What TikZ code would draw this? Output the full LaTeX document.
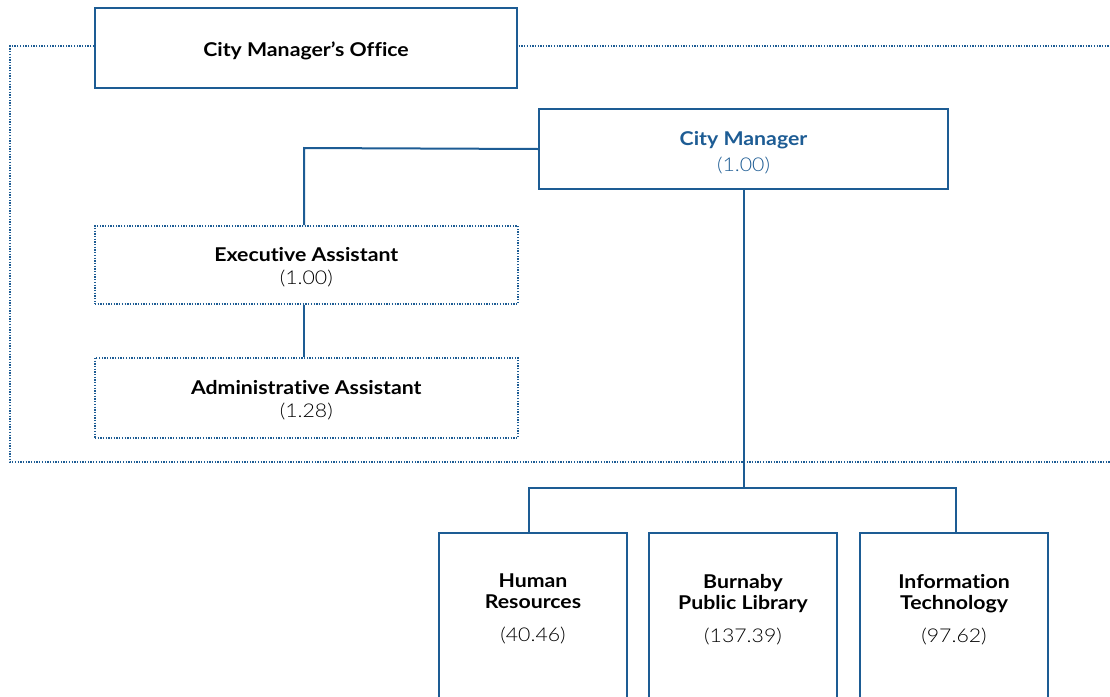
\documentclass[tikz,border=0pt]{standalone}
\usepackage{fontspec}
\setmainfont{Lato}[Ligatures=NoCommon,FakeStretch=1.12]
\newfontfamily\lightfont{Lato Light}[Ligatures=NoCommon,FakeStretch=1.12]
\definecolor{orgblue}{HTML}{1D5C94}
\newcommand{\fte}[1]{{\lightfont #1}}
\begin{document}
\begin{tikzpicture}[x=1pt,y=-1pt,
  txt/.style={align=center,inner sep=0pt,font=\fontsize{19}{23}\selectfont},
  solidbox/.style={draw=orgblue,line width=2pt,fill=white,anchor=north west,inner sep=0pt},
  dotbox/.style={draw=orgblue,line width=1.6pt,dash pattern=on 1.3pt off 1.4pt,fill=white,anchor=north west,inner sep=0pt},
  frame/.style={draw=orgblue,line width=1.6pt,dash pattern=on 1.3pt off 1.4pt},
  link/.style={draw=orgblue,line width=2pt}]
\useasboundingbox (0,0) rectangle (1110,696);
\clip (0,0) rectangle (1110,696);

% dotted outline of the office group
\draw[frame] (94,46) -- (10,46) -- (10,462) -- (1115,462);
\draw[frame] (516,46) -- (1115,46);

% boxes
\node[solidbox,minimum width=422pt,minimum height=80pt] (office) at (94,7) {};
\node[solidbox,minimum width=409pt,minimum height=80pt] (cm) at (538,108) {};
\node[dotbox,minimum width=423pt,minimum height=78pt] (ea) at (94,225) {};
\node[dotbox,minimum width=423pt,minimum height=80pt] (aa) at (94,357) {};
\node[solidbox,minimum width=188pt,minimum height=180pt] (hr) at (438,532) {};
\node[solidbox,minimum width=188pt,minimum height=180pt] (bpl) at (648,532) {};
\node[solidbox,minimum width=188pt,minimum height=180pt] (it) at (859,532) {};

% box texts
\node[txt] (officet) at ([yshift=-3pt]office.center) {\textbf{City Manager’s Office}};
\node[txt,text=orgblue,font=\fontsize{19}{26}\selectfont] (cmt) at ([yshift=-4pt]cm.center) {\textbf{City Manager}\\\fte{(1.00)}};
\node[txt] (eat) at ([yshift=-2pt]ea.center) {\textbf{Executive Assistant}\\\fte{(1.00)}};
\node[txt] (aat) at ([yshift=-2pt]aa.center) {\textbf{Administrative Assistant}\\\fte{(1.28)}};
\tikzset{dept/.style={txt,font=\fontsize{19}{21}\selectfont,anchor=north}}
\node[dept] (hrt) at ([yshift=-42pt]hr.north) {\textbf{Human}\\\textbf{Resources}\\[12pt]\fte{(40.46)}};
\node[dept] (bplt) at ([yshift=-42pt]bpl.north) {\textbf{Burnaby}\\\textbf{Public Library}\\[12pt]\fte{(137.39)}};
\node[dept] (itt) at ([yshift=-42pt]it.north) {\textbf{Information}\\\textbf{Technology}\\[12pt]\fte{(97.62)}};

% connectors
\draw[link] (cm.west) -- (304,148) -- (ea.north -| 304,0);
\draw[link] (ea.south -| 304,0) -- (aa.north -| 304,0);
\coordinate (bus) at (742,488);
\draw[link] (cm.south) -- (cm.south |- bus);
\draw[link] (529,532) -- (529,488) -- (956,488) -- (956,532);
\end{tikzpicture}
\end{document}
